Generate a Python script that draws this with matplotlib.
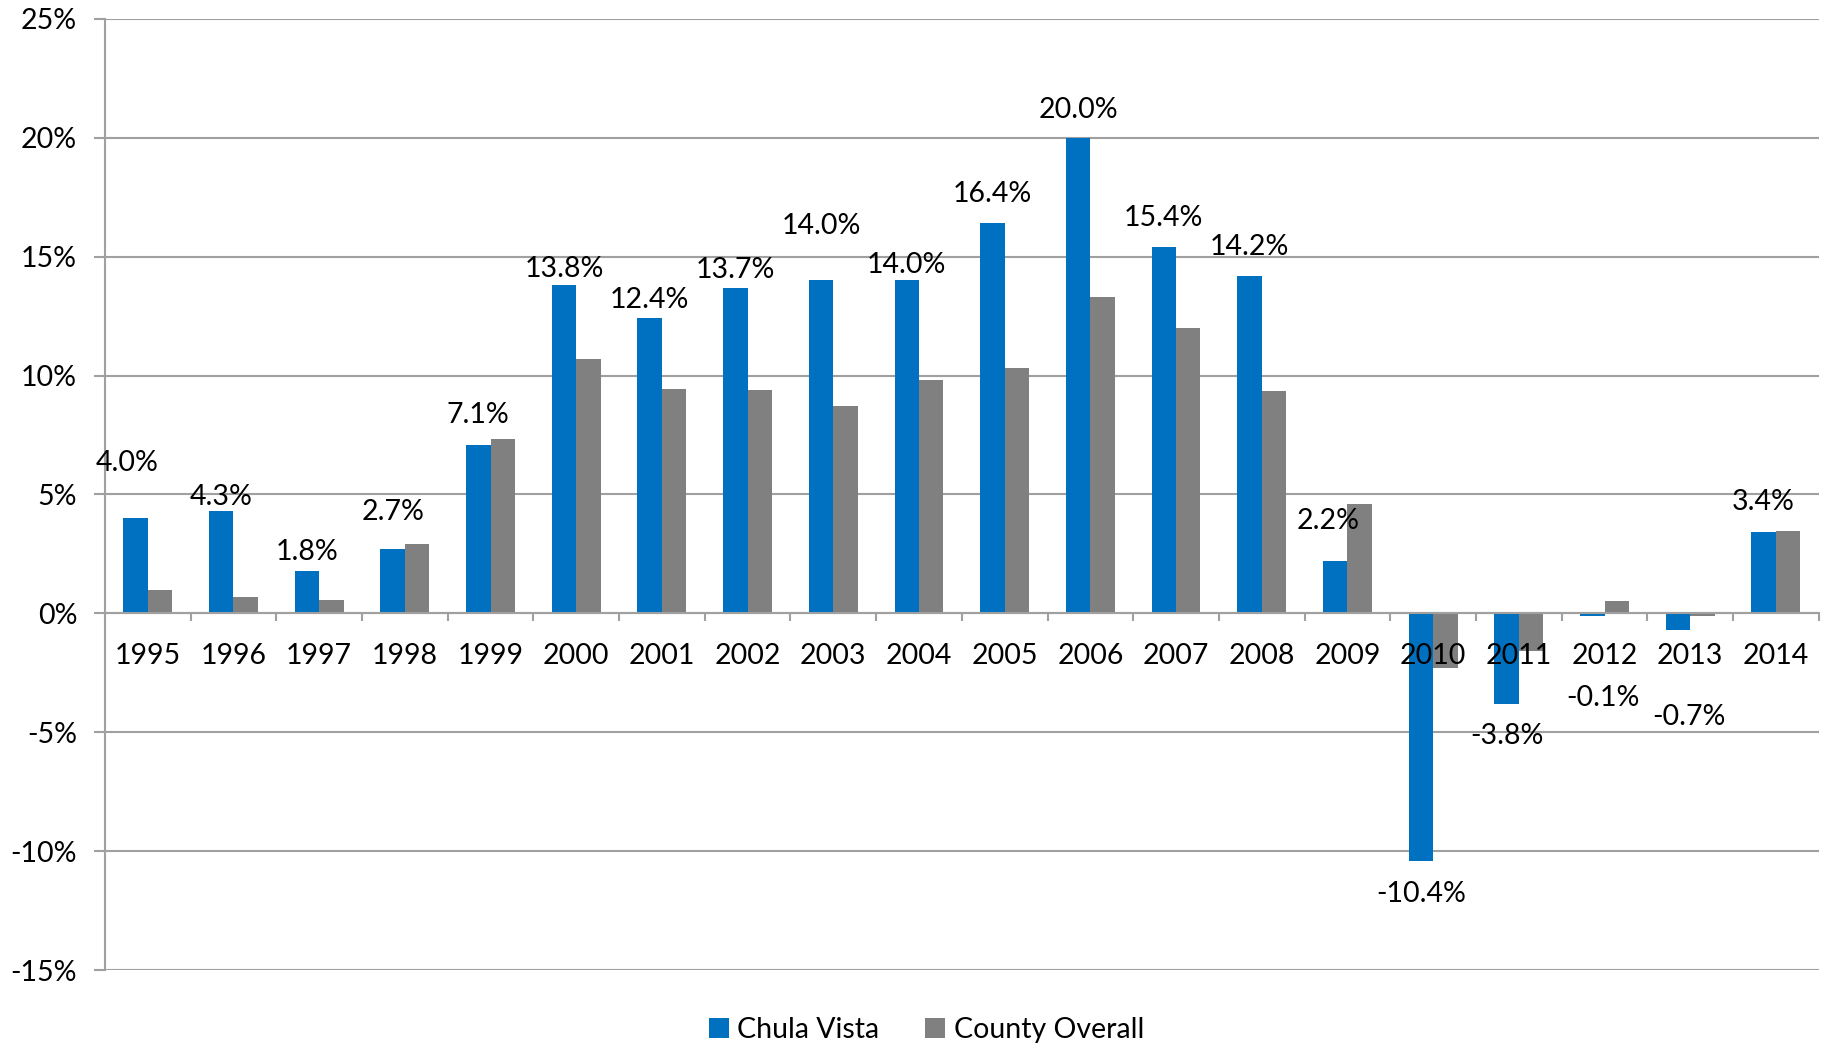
import matplotlib.pyplot as plt
import numpy as np

years = ['1995', '1996', '1997', '1998', '1999', '2000', '2001', '2002', '2003', '2004',
         '2005', '2006', '2007', '2008', '2009', '2010', '2011', '2012', '2013', '2014']
chula_vista = [4.0, 4.3, 1.8, 2.7, 7.1, 13.8, 12.4, 13.7, 14.0, 14.0,
               16.4, 20.0, 15.4, 14.2, 2.2, -10.4, -3.8, -0.1, -0.7, 3.4]
county = [1.0, 0.7, 0.55, 2.9, 7.35, 10.7, 9.45, 9.4, 8.7, 9.8,
          10.3, 13.3, 12.0, 9.35, 4.6, -2.3, -1.6, 0.5, -0.1, 3.45]

# label offsets (points) from the bar end
lab_dy = [40, 10, 13, 27, 21, 12, 13, 13, 39, 11, 21, 20, 21, 21, 29, 24, 23, 59, 63, 22]
lab_dx = [-6, 0, 0, 0, 0, 0, 0, 0, 0, 0, 0, 0, 0, 0, -5, 0, 0, 8, 8, 0]

plt.rcParams['font.family'] = ['Lato', 'DejaVu Sans']
blue = '#0070C0'
grey = '#808080'
axcol = '#A0A0A0'

fig = plt.figure(figsize=(18.31, 10.47), dpi=100)
ax = fig.add_axes([0.0573, 0.0735, 0.936, 0.9085])

x = np.arange(len(years))
w = 0.285
b1 = ax.bar(x - w / 2, chula_vista, w, color=blue, label='Chula Vista', zorder=3)
b2 = ax.bar(x + w / 2, county, w, color=grey, label='County Overall', zorder=3)

for i, v in enumerate(chula_vista):
    sign = 1 if v >= 0 else -1
    ax.annotate('%.1f%%' % v, (x[i] - w / 2, v), xytext=(lab_dx[i], sign * lab_dy[i]),
                textcoords='offset points', ha='center', va='center', fontsize=20.5, zorder=5)

ax.set_xlim(-0.5, len(years) - 0.5)
ax.set_ylim(-15, 25)
ax.set_yticks(np.arange(-15, 26, 5))
ax.set_yticklabels(['%d%%' % t for t in np.arange(-15, 26, 5)])
ax.yaxis.grid(True, color=axcol, linewidth=1.5, zorder=0)

ax.spines['top'].set_visible(False)
ax.spines['right'].set_visible(False)
ax.spines['left'].set_color(axcol)
ax.spines['left'].set_linewidth(1.5)
ax.spines['bottom'].set_position(('data', 0))
ax.spines['bottom'].set_color(axcol)
ax.spines['bottom'].set_linewidth(1.5)
ax.spines['bottom'].set_zorder(4)

ax.set_xticks(x)
ax.set_xticklabels(years)
ax.set_xticks(np.arange(-0.5, len(years), 1), minor=True)
ax.tick_params(axis='x', which='major', length=0, pad=21, labelsize=20.5)
ax.tick_params(axis='x', which='minor', length=6, width=1.5, color=axcol, direction='out')
ax.tick_params(axis='y', length=8, width=1.5, color=axcol, pad=12, labelsize=20.5)
# year labels sit on top of the negative bars
ax.xaxis.set_zorder(4.5)

fig.legend(handles=[b1, b2], loc='center', bbox_to_anchor=(0.506, 0.016), ncol=2,
           frameon=False, fontsize=20.5, handlelength=0.7, handleheight=0.7,
           handletextpad=0.3, columnspacing=1.6)

fig.savefig('out.png', dpi=100)
